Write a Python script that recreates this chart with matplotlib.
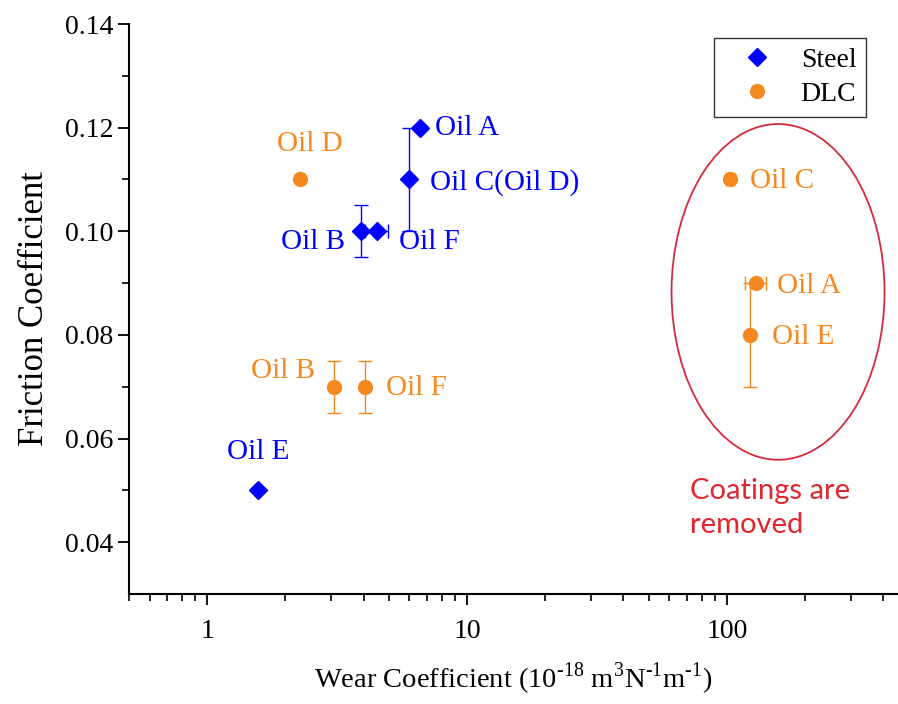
import numpy as np
import matplotlib
matplotlib.use("Agg")
import matplotlib.pyplot as plt
from matplotlib.patches import Ellipse
from matplotlib.lines import Line2D
from matplotlib.ticker import FixedLocator, NullFormatter

plt.rcParams['font.family'] = ['Liberation Serif', 'DejaVu Serif']
plt.rcParams['mathtext.fontset'] = 'custom'
plt.rcParams['mathtext.rm'] = 'Liberation Serif'

blue = '#0000ff'
orange = '#f5881f'
red = '#d42a3c'

# Steel data
steel_names = ['Oil A', 'Oil C(Oil D)', 'Oil B', 'Oil F', 'Oil E']
steel_wear = [6.6, 6.0, 3.9, 4.5, 1.57]
steel_fric = [0.12, 0.11, 0.10, 0.10, 0.05]
steel_xerr = [0.0, 0.0, 0.0, 0.45, 0.0]
steel_yerr = [0.0, 0.01, 0.005, 0.0, 0.0]

# DLC data
dlc_names = ['Oil D', 'Oil B', 'Oil F', 'Oil C', 'Oil A', 'Oil E']
dlc_wear = [2.28, 3.08, 4.05, 103, 130, 123]
dlc_fric = [0.11, 0.07, 0.07, 0.11, 0.09, 0.08]
dlc_xerr = [0.0, 0.0, 0.0, 4.0, 12.0, 0.0]
dlc_yerr = [0.0, 0.005, 0.005, 0.0, 0.0, 0.01]

# label offsets in pixels (dx, dy), alignment
steel_off = [(15, 0, 'left'), (21, -3, 'left'), (-16, -11, 'right'),
             (22, -11, 'left'), (0, 38, 'center')]
dlc_off = [(10, 35, 'center'), (-19, 16, 'right'), (21, -1, 'left'),
           (20, -2, 'left'), (21, -3, 'left'), (22, -2, 'left')]

fig = plt.figure(figsize=(8.98, 7.04), dpi=100)
ax = fig.add_axes([129/898, 110/704, 769/898, 570/704])

ax.errorbar(steel_wear, steel_fric, xerr=steel_xerr, yerr=steel_yerr,
            fmt='D', color=blue, ms=9.5, ecolor=blue, elinewidth=1,
            capsize=5, capthick=1, zorder=3)
ax.errorbar(dlc_wear, dlc_fric, xerr=dlc_xerr, yerr=dlc_yerr,
            fmt='o', color=orange, ms=10, ecolor=orange, elinewidth=1,
            capsize=5, capthick=1, zorder=3)

px = 72 / 100
for n, x, y, (dx, dy, ha) in zip(steel_names, steel_wear, steel_fric, steel_off):
    ax.annotate(n, (x, y), xytext=(dx*px, dy*px), textcoords='offset points',
                ha=ha, va='center', color=blue, fontsize=21)
for n, x, y, (dx, dy, ha) in zip(dlc_names, dlc_wear, dlc_fric, dlc_off):
    ax.annotate(n, (x, y), xytext=(dx*px, dy*px), textcoords='offset points',
                ha=ha, va='center', color=orange, fontsize=21)

ax.add_patch(Ellipse((0.844, 0.530), 0.277, 0.589, transform=ax.transAxes,
                     fill=False, edgecolor=red, lw=1.3))
ax.text(561/769, (594-508)/570, 'Coatings are\nremoved', transform=ax.transAxes,
        color='#e0262e', fontsize=21, family=['Lato', 'DejaVu Sans'],
        ha='left', va='center', linespacing=1.4)

ax.set_xscale('log')
ax.set_xlim(0.5, 456)
ax.set_ylim(0.03, 0.14)
ax.set_yticks([0.04, 0.06, 0.08, 0.10, 0.12, 0.14])
ax.set_yticklabels(['0.04', '0.06', '0.08', '0.10', '0.12', '0.14'])
ax.yaxis.set_minor_locator(FixedLocator([0.05, 0.07, 0.09, 0.11, 0.13]))
ax.set_xticks([1, 10, 100])
ax.set_xticklabels(['1', '10', '100'])
ax.xaxis.set_minor_formatter(NullFormatter())

for s in ['top', 'right']:
    ax.spines[s].set_visible(False)
for s in ['left', 'bottom']:
    ax.spines[s].set_linewidth(1.5)
ax.tick_params(which='major', direction='out', length=8, width=1.3, labelsize=20)
ax.tick_params(which='minor', direction='out', length=5, width=1.2)
ax.tick_params(axis='x', pad=10)

ax.set_xlabel(r'Wear Coefficient (10$^{\text{-18}}$ m$^{\text{3}}$N$^{\text{-1}}$m$^{\text{-1}}$)',
              fontsize=20.5, labelpad=12)
ax.set_ylabel('Friction Coefficient', fontsize=25, labelpad=10)

handles = [Line2D([], [], ls='none', marker='D', color=blue, ms=9.5),
           Line2D([], [], ls='none', marker='o', color=orange, ms=10)]
leg = ax.legend(handles, ['Steel', 'DLC'], loc='upper right',
                bbox_to_anchor=(866/898, 666/704),
                bbox_transform=fig.transFigure, borderaxespad=0,
                fancybox=False, edgecolor='black', fontsize=20,
                handletextpad=0.36, borderpad=0.35, labelspacing=0.3,
                handlelength=2.4)
leg.get_frame().set_linewidth(1)

fig.savefig('out.png', dpi=100)
